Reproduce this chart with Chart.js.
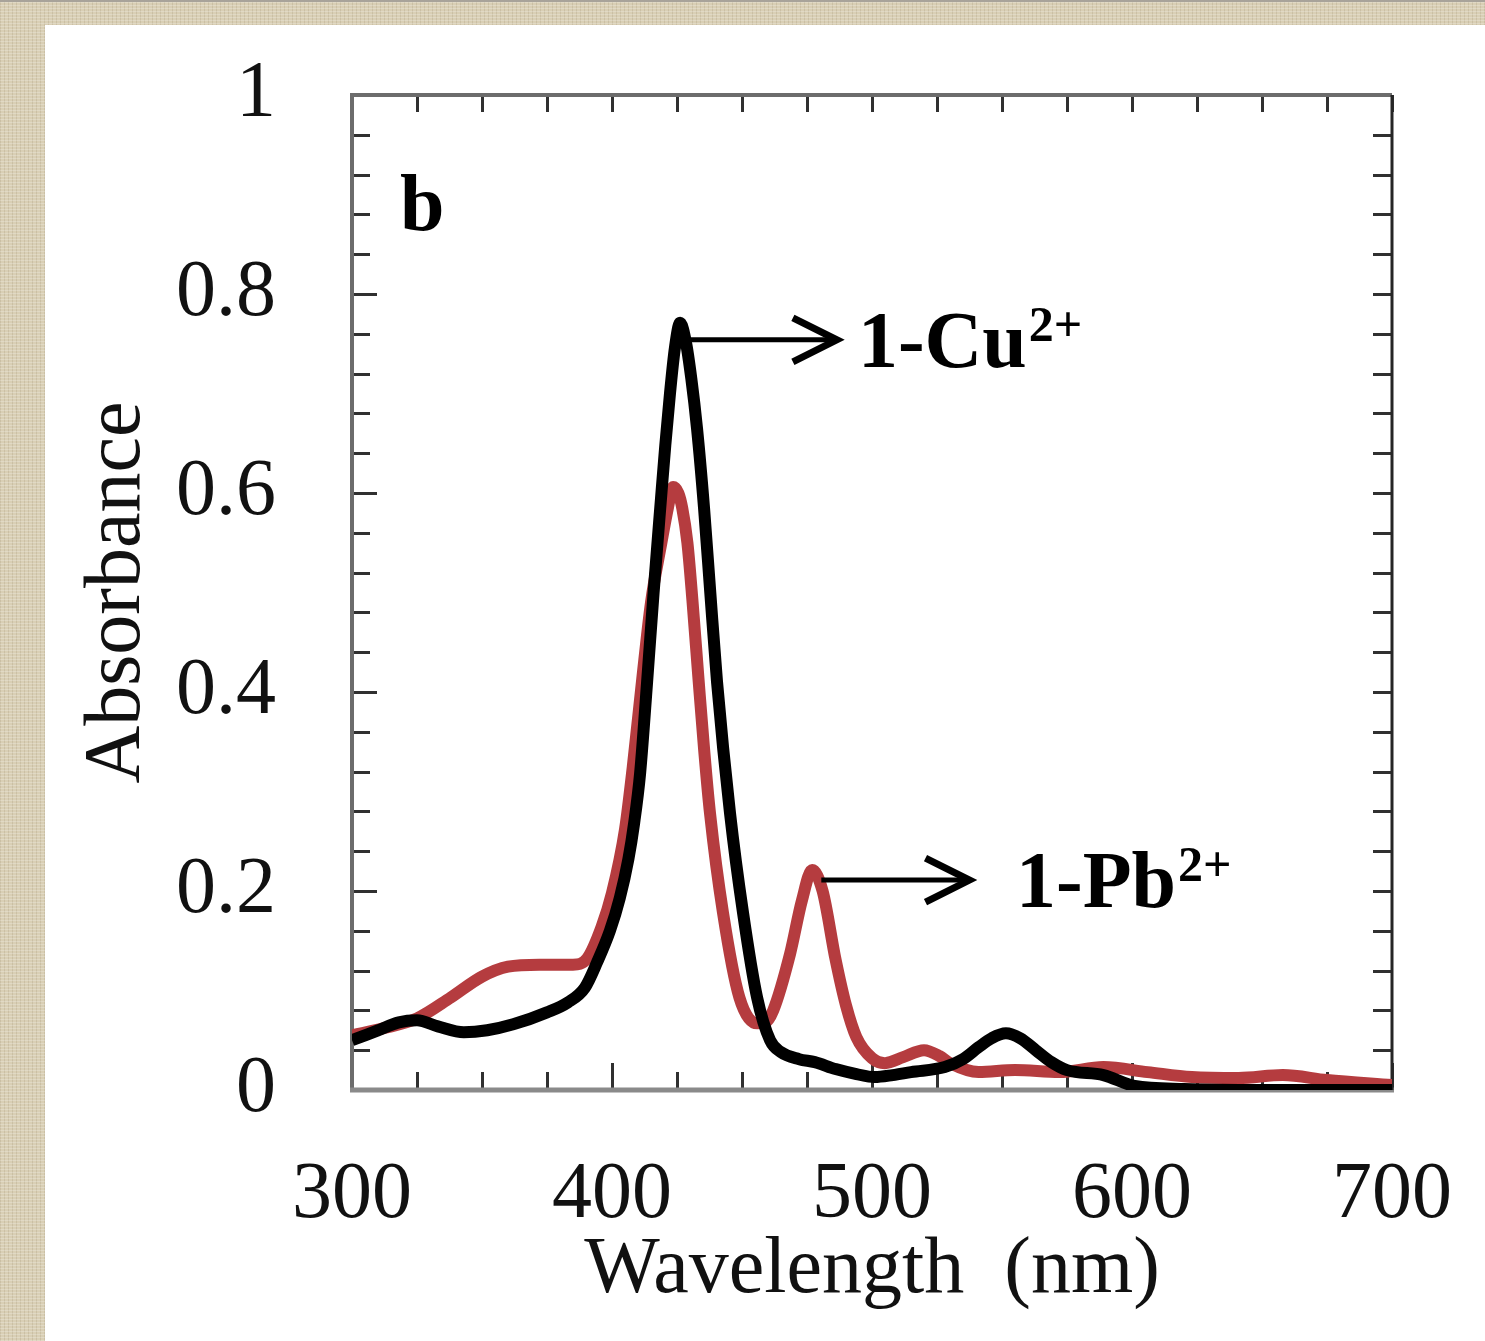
<!DOCTYPE html>
<html>
<head>
<meta charset="utf-8">
<title>Absorbance spectra</title>
<script src="https://cdn.jsdelivr.net/npm/chart.js@4.4.1/dist/chart.umd.min.js"></script>
<style>
  html, body { margin: 0; padding: 0; }
  body {
    width: 1485px; height: 1341px; overflow: hidden; position: relative;
    background-color: #d9cfb5;
    background-image:
      repeating-linear-gradient(0deg, rgba(255,255,255,0.22) 0 1px, transparent 1px 3px),
      repeating-linear-gradient(90deg, rgba(110,90,50,0.13) 0 1px, transparent 1px 4px);
  }
  #topline { position: absolute; left: 0; top: 0; width: 1485px; height: 2px; background: #a8a39a; }
  #panel { position: absolute; left: 45px; top: 25px; width: 1440px; height: 1316px; background: #fff; }
</style>
</head>
<body>
<div id="topline"></div>
<div id="panel"><canvas id="spectra"></canvas></div>
<script>
// Spectra (wavelength in nm, absorbance)
const cuWavelength = [300, 310, 318, 325, 333, 343, 352, 362, 375, 383, 389.6, 394.2, 399.2, 403, 406.3, 408.5,
  410.8, 413.5, 416, 418.8, 420.5, 422.3, 424.2, 426.2, 428.4, 430.5, 432.7, 435.4, 437.8, 440.4, 445.4, 450.4,
  455.8, 460.8, 465, 472, 478, 486, 494, 501, 508, 515, 528, 535, 541, 546, 551.5, 557, 563, 569, 575, 589, 601,
  620, 650, 700];
const cuAbsorbance = [0.050, 0.060, 0.068, 0.070, 0.064, 0.058, 0.060, 0.066, 0.078, 0.088, 0.103, 0.128, 0.160,
  0.193, 0.232, 0.268, 0.318, 0.410, 0.500, 0.593, 0.648, 0.700, 0.746, 0.771, 0.752, 0.715, 0.665, 0.585, 0.500,
  0.410, 0.278, 0.178, 0.093, 0.050, 0.038, 0.031, 0.028, 0.021, 0.016, 0.013, 0.015, 0.018, 0.023, 0.031, 0.043,
  0.052, 0.057, 0.052, 0.040, 0.028, 0.020, 0.015, 0.004, 0.001, 0.000, 0.000];

const pbWavelength = [300, 312, 325, 338, 350, 360, 372, 385, 390.4, 396, 400, 405, 408, 411.5, 415, 419, 421.5,
  423.5, 425.5, 427, 429, 431, 433.3, 435.5, 437.7, 442.7, 449, 455.8, 459, 462, 468.5, 473, 477, 481, 486, 490,
  494, 500, 505, 512, 520, 526, 530, 541, 555, 572, 589, 606, 623, 641, 658, 675, 700];
const pbAbsorbance = [0.055, 0.062, 0.072, 0.093, 0.114, 0.124, 0.126, 0.126, 0.132, 0.164, 0.198, 0.262, 0.325,
  0.410, 0.490, 0.550, 0.585, 0.606, 0.600, 0.585, 0.550, 0.490, 0.412, 0.340, 0.278, 0.178, 0.093, 0.067, 0.068,
  0.080, 0.137, 0.190, 0.221, 0.200, 0.131, 0.085, 0.053, 0.032, 0.027, 0.033, 0.040, 0.034, 0.027, 0.018, 0.020,
  0.018, 0.023, 0.018, 0.013, 0.012, 0.015, 0.010, 0.005];

const xTickLabels = ['300', '400', '500', '600', '700'];
const yTickLabels = ['0', '0.2', '0.4', '0.6', '0.8', '1'];

// Arrow callouts, in data coordinates
const callouts = [
  { name: '1-Cu', charge: '2+', fromNm: 430, toNm: 486.5, level: 0.754, textNm: 494.6, textLevel: 0.727 },
  { name: '1-Pb', charge: '2+', fromNm: 480.5, toNm: 537.5, level: 0.211, textNm: 555.4, textLevel: 0.184 }
];

const SERIF = "'Liberation Serif', 'Times New Roman', serif";

function toPoints(xs, ys) {
  return xs.map((x, i) => ({ x: x, y: ys[i] }));
}

function strokeLine(ctx, x0, y0, x1, y1) {
  ctx.beginPath();
  ctx.moveTo(x0, y0);
  ctx.lineTo(x1, y1);
  ctx.stroke();
}

const frameTicks = {
  id: 'frameTicks',
  beforeDatasetsDraw(chart) {
    const { ctx, chartArea: a, scales: { x, y } } = chart;
    ctx.save();
    ctx.lineCap = 'butt';

    // inner ticks on all four sides
    ctx.strokeStyle = '#303030';
    ctx.lineWidth = 3;
    x.ticks.forEach(t => {
      const px = Math.round(x.getPixelForValue(t.value)) + 0.5;
      const major = t.value % 100 === 0;
      strokeLine(ctx, px, a.bottom, px, a.bottom - (major ? 27 : 18));
      strokeLine(ctx, px, a.top, px, a.top + 17);
    });
    y.ticks.forEach(t => {
      const py = Math.round(y.getPixelForValue(t.value)) + 0.5;
      const k = Math.round(t.value / 0.2);
      const major = Math.abs(t.value - k * 0.2) < 1e-6;
      strokeLine(ctx, a.left, py, a.left + (major ? 25 : 18), py);
      strokeLine(ctx, a.right, py, a.right - 19, py);
    });

    // frame
    ctx.strokeStyle = '#6c6c6c';
    ctx.lineWidth = 4;
    strokeLine(ctx, a.left, a.top, a.left, a.bottom + 2);
    strokeLine(ctx, a.left - 2, a.top, a.right, a.top);
    ctx.strokeStyle = '#8a8a8a';
    ctx.lineWidth = 5;
    strokeLine(ctx, a.left - 2, a.bottom, a.right + 2, a.bottom);
    ctx.strokeStyle = '#262626';
    ctx.lineWidth = 3;
    strokeLine(ctx, a.right, a.top, a.right, a.bottom);
    ctx.restore();
  },
  afterDatasetsDraw(chart) {
    const { ctx, chartArea: a, scales: { x, y } } = chart;
    ctx.save();
    ctx.fillStyle = '#000';
    ctx.textBaseline = 'alphabetic';
    ctx.textAlign = 'left';

    // panel letter
    ctx.font = 'bold 80px ' + SERIF;
    ctx.fillText('b', a.left + 48, a.top + 135);

    callouts.forEach(c => {
      const x0 = x.getPixelForValue(c.fromNm);
      const x1 = x.getPixelForValue(c.toNm);
      const py = y.getPixelForValue(c.level);
      ctx.strokeStyle = '#000';
      ctx.lineWidth = 5;
      ctx.lineJoin = 'miter';
      strokeLine(ctx, x0, py, x1 - 3, py);
      ctx.lineWidth = 7;
      ctx.beginPath();
      ctx.moveTo(x1 - 44, py - 22);
      ctx.lineTo(x1, py);
      ctx.lineTo(x1 - 44, py + 22);
      ctx.stroke();

      const tx = x.getPixelForValue(c.textNm);
      const ty = y.getPixelForValue(c.textLevel);
      ctx.font = 'bold 80px ' + SERIF;
      ctx.fillText(c.name, tx, ty);
      const w = ctx.measureText(c.name).width;
      ctx.font = 'bold 50px ' + SERIF;
      ctx.fillText(c.charge, tx + w + 2, ty - 26);
    });
    ctx.restore();
  }
};

new Chart(document.getElementById('spectra'), {
  type: 'line',
  data: {
    datasets: [
      {
        label: '1-Cu2+',
        data: toPoints(cuWavelength, cuAbsorbance),
        borderColor: '#000000',
        borderWidth: 12,
        pointRadius: 0,
        cubicInterpolationMode: 'monotone',
        order: 0
      },
      {
        label: '1-Pb2+',
        data: toPoints(pbWavelength, pbAbsorbance),
        borderColor: '#b53c3f',
        borderWidth: 12,
        pointRadius: 0,
        cubicInterpolationMode: 'monotone',
        order: 1
      }
    ]
  },
  options: {
    responsive: true,
    maintainAspectRatio: false,
    devicePixelRatio: 1,
    animation: false,
    layout: { padding: { left: 0, top: 70, right: 93, bottom: 0 } },
    plugins: {
      legend: { display: false },
      tooltip: { enabled: false }
    },
    scales: {
      x: {
        type: 'linear',
        min: 300,
        max: 700,
        grid: { display: false },
        border: { display: false },
        ticks: {
          stepSize: 25,
          autoSkip: false,
          maxRotation: 0,
          padding: 50,
          color: '#111',
          font: { family: SERIF, size: 80 },
          callback: function(value) {
            return value % 100 === 0 ? xTickLabels[(value - 300) / 100] : '';
          }
        },
        title: {
          display: true,
          text: 'Wavelength  (nm)',
          color: '#111',
          font: { family: SERIF, size: 80, lineHeight: 1 },
          padding: { top: 0, bottom: 30 }
        },
        afterFit: function(scale) {
          scale.height = 251;
          scale.paddingLeft = 0;
          scale.paddingRight = 0;
        }
      },
      y: {
        min: 0,
        max: 1,
        grid: { display: false },
        border: { display: false },
        ticks: {
          stepSize: 0.04,
          autoSkip: false,
          padding: 68,
          color: '#111',
          font: { family: SERIF, size: 80 },
          callback: function(value) {
            const k = Math.round(value / 0.2);
            return Math.abs(value - k * 0.2) < 1e-6 ? yTickLabels[k] : '';
          }
        },
        title: {
          display: true,
          text: 'Absorbance',
          color: '#111',
          font: { family: SERIF, size: 80, lineHeight: 1 },
          padding: { top: 33, bottom: 0 }
        },
        afterFit: function(scale) {
          scale.width = 307;
          scale.paddingTop = 0;
          scale.paddingBottom = 0;
        }
      }
    }
  },
  plugins: [frameTicks]
});
</script>
</body>
</html>
